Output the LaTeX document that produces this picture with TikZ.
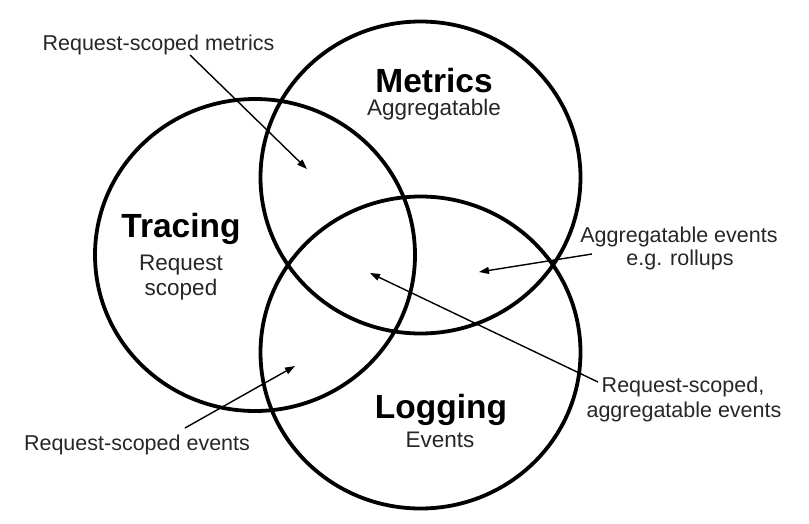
\documentclass[tikz,border=0pt]{standalone}
\usepackage{fontspec}
\setmainfont{Liberation Sans}
\usetikzlibrary{arrows.meta}
\begin{document}
\begin{tikzpicture}[x=1pt,y=-1pt,
  ring/.style={line width=3.8pt, black},
  title/.style={anchor=base, inner sep=0pt, font=\fontsize{33.5}{36}\selectfont\bfseries},
  sub/.style={anchor=base, inner sep=0pt, text=black!85, font=\fontsize{22.5}{25}\selectfont},
  lbl/.style={anchor=base, inner sep=0pt, text=black!85, font=\fontsize{21.5}{24}\selectfont},
  pointer/.style={line width=1.4pt, -{Triangle[length=10pt,width=7pt]}}]
\useasboundingbox (0,0) rectangle (809,523);
% circles
\coordinate (tracing) at (255,255);
\coordinate (metrics) at (420.5,177.5);
\coordinate (logging) at (420.5,352.5);
\draw[ring] (tracing) ellipse [x radius=160pt, y radius=156pt];
\draw[ring] (metrics) ellipse [x radius=160pt, y radius=156pt];
\draw[ring] (logging) ellipse [x radius=160pt, y radius=156pt];
% titles
\node[title] (tM) at (434,92) {Metrics};
\node[sub] (sM) at (434,115) {Aggregatable};
\node[title] (tT) at (181,237) {Tracing};
\node[sub] (sT1) at (181,270) {Request};
\node[sub] (sT2) at (181,295) {scoped};
\node[title] (tL) at (441,418) {Logging};
\node[sub] (sL) at (440,447) {Events};
% labels
\node[lbl] (l1) at (158.5,50) {Request-scoped metrics};
\node[lbl] (l2a) at (679,242) {Aggregatable events};
\node[lbl] (l2b) at (680,265) {e.g. rollups};
\node[lbl] (l3a) at (683,392) {Request-scoped,};
\node[lbl] (l3b) at (684,417) {aggregatable events};
\node[lbl] (l4) at (137,450) {Request-scoped events};
% arrow ends
\coordinate (s1) at (190,55);
\coordinate (e1) at (307,169);
\coordinate (s2) at (592,254);
\coordinate (e2) at (479,272);
\coordinate (s3) at (598,382);
\coordinate (e3) at (370,273);
\coordinate (s4) at (185,428);
\coordinate (e4) at (295,366);
\draw[pointer] (s1) -- (e1);
\draw[pointer] (s2) -- (e2);
\draw[pointer] (s3) -- (e3);
\draw[pointer] (s4) -- (e4);
\end{tikzpicture}
\end{document}
